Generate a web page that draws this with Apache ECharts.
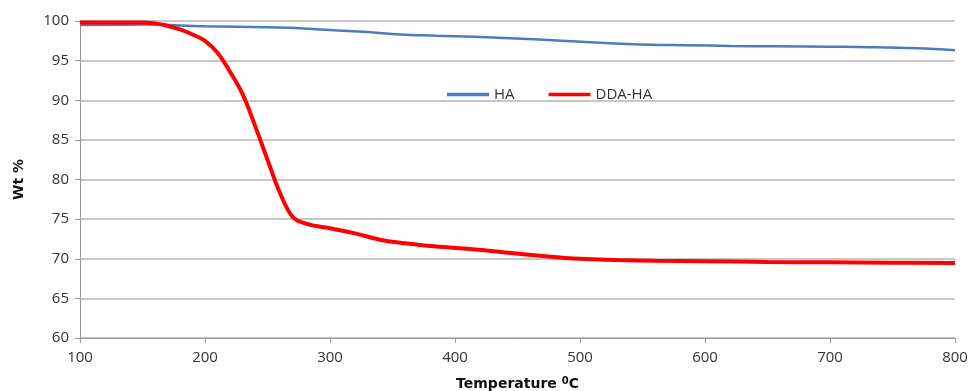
<!DOCTYPE html>
<html>
<head>
<meta charset="utf-8">
<script src="https://cdn.jsdelivr.net/npm/echarts@6/dist/echarts.min.js"></script>
<style>html,body{margin:0;padding:0;background:#fff}#c{width:971px;height:391px}</style>
</head>
<body>
<div id="c"></div>
<script>
const xTicks = [100, 200, 300, 400, 500, 600, 700, 800];
const yTicks = [60, 65, 70, 75, 80, 85, 90, 95, 100];
const haTemps = [100,150,200,250,276,300,330,356,385,415,463,516,556,585,620,657,700,732,770,800];
const haValues = [99.5,99.55,99.35,99.2,99.1,98.85,98.6,98.3,98.15,98.0,97.7,97.25,97.0,96.95,96.85,96.8,96.75,96.7,96.55,96.3];
const ddaTemps = [100,130,150,160,170,180,190,200,210,220,230,240,250,260,270,280,290,300,320,340,360,380,410,440,470,500,530,560,600,650,700,750,800];
const ddaValues = [99.8,99.8,99.8,99.7,99.4,98.93,98.3,97.5,96.0,93.6,90.8,86.8,82.5,78.3,75.3,74.45,74.1,73.85,73.2,72.4,71.95,71.6,71.25,70.8,70.35,70.0,69.85,69.75,69.7,69.6,69.55,69.5,69.45];

const pair = (xs, ys) => xs.map((x, i) => [x, ys[i]]);
const chart = echarts.init(document.getElementById('c'));
const font = 'Open Sans, Liberation Sans, sans-serif';
chart.setOption({
  animation: false,
  grid: {left: 80, right: 16, top: 21, bottom: 53, outerBoundsMode: 'none', containLabel: false},
  legend: {
    left: 442, top: 82, itemWidth: 42, itemHeight: 3.5, itemGap: 34,
    textStyle: {fontFamily: font, fontSize: 15, color: '#333'},
    data: [
      {name: 'HA', icon: 'rect', itemStyle: {color: '#4a7ebb'}},
      {name: 'DDA-HA', icon: 'rect', itemStyle: {color: '#ff0000'}}
    ]
  },
  xAxis: {
    type: 'value', min: xTicks[0], max: xTicks[xTicks.length-1], interval: 100,
    name: '{a|Temperature }{s|0}{a|C}', nameLocation: 'middle', nameGap: 38,
    nameTextStyle: {rich: {
      a: {fontFamily: 'DejaVu Sans, sans-serif', fontWeight: 'bold', fontSize: 14, color: '#111'},
      s: {fontFamily: 'DejaVu Sans, sans-serif', fontWeight: 'bold', fontSize: 10, color: '#111', verticalAlign: 'top', padding: [0,0,6,0]}
    }},
    axisLine: {lineStyle: {color: '#999'}},
    axisTick: {lineStyle: {color: '#999'}, length: 5},
    axisLabel: {fontFamily: font, fontSize: 15, color: '#333', margin: 12},
    splitLine: {show: false}
  },
  yAxis: {
    type: 'value', min: yTicks[0], max: yTicks[yTicks.length-1], interval: 5,
    name: 'Wt %', nameLocation: 'middle', nameGap: 54, nameRotate: 90,
    nameTextStyle: {fontFamily: 'DejaVu Sans, sans-serif', fontWeight: 'bold', fontSize: 14, color: '#111'},
    axisLine: {show: true, lineStyle: {color: '#999'}},
    axisTick: {show: true, lineStyle: {color: '#999'}, length: 5},
    axisLabel: {fontFamily: font, fontSize: 15, color: '#333', margin: 11},
    splitLine: {lineStyle: {color: '#b4b4b4', width: 1.5}}
  },
  series: [
    {name: 'HA', type: 'line', data: pair(haTemps, haValues), smooth: 0.4, symbol: 'none',
     lineStyle: {color: '#4a7ebb', width: 2.5}, itemStyle: {color: '#4a7ebb'}},
    {name: 'DDA-HA', type: 'line', data: pair(ddaTemps, ddaValues), smooth: 0.4, symbol: 'none',
     lineStyle: {color: '#ff0000', width: 4}, itemStyle: {color: '#ff0000'}}
  ]
});
</script>
</body>
</html>
